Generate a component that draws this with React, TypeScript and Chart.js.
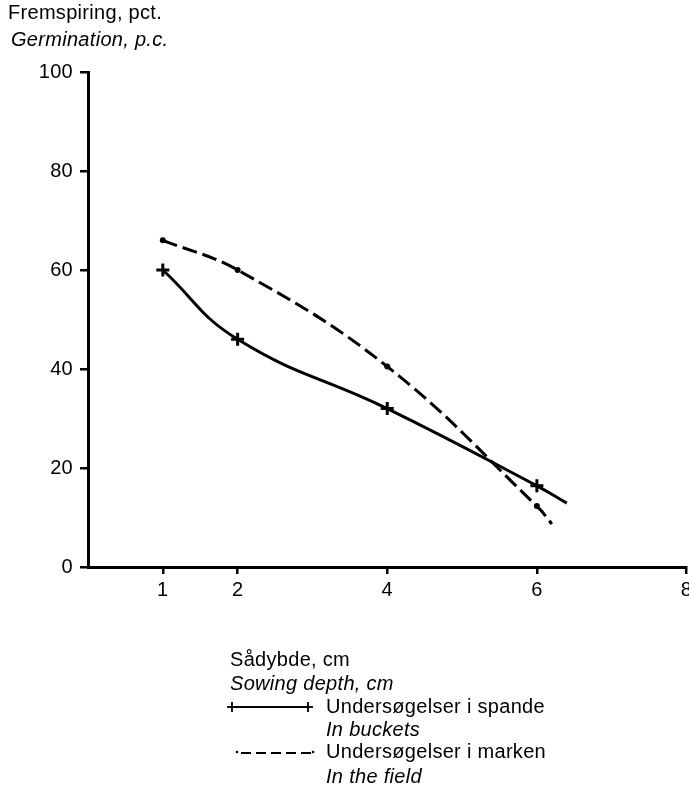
import React, { useEffect, useRef } from "react";
import { Chart, registerables } from "chart.js";

Chart.register(...registerables);

// Data
const depthBuckets = [1, 2, 4, 6, 6.4];
const germBuckets = [60, 46, 32, 16.4, 12.9];
const markerBuckets = [true, true, true, true, false];

const depthField = [1, 2, 4, 6, 6.2];
const germField = [66, 60, 40.5, 12.3, 8.7];
const markerField = [true, true, true, true, false];

const xTickValues = [1, 2, 4, 6, 8];
const yTickStep = 20;

const FONT = '"Liberation Sans", Arial, Helvetica, sans-serif';
const FONT_SIZE = 20;

const textStyle = (top: number, left: number, italic = false): React.CSSProperties => ({
  position: "absolute",
  top,
  left,
  fontFamily: FONT,
  fontSize: FONT_SIZE,
  lineHeight: "22px",
  letterSpacing: "0.3px",
  fontStyle: italic ? "italic" : "normal",
  color: "#000",
  whiteSpace: "nowrap",
});

export default function App() {
  const ref = useRef<HTMLCanvasElement | null>(null);

  useEffect(() => {
    document.body.style.margin = "0";
    const canvas = ref.current;
    if (!canvas) return;
    const spacingPlugin = {
      id: "spacing",
      beforeDraw: (chart: any) => {
        chart.ctx.letterSpacing = "0.3px";
      },
    };
    const chart = new Chart(canvas, {
      type: "line",
      data: {
        datasets: [
          {
            label: "Undersøgelser i spande",
            data: depthBuckets.map((x, i) => ({ x, y: germBuckets[i] })),
            borderColor: "#000",
            backgroundColor: "#000",
            borderWidth: 3,
            tension: 0.45,
            pointStyle: "cross",
            pointRadius: markerBuckets.map((m) => (m ? 6.5 : 0)),
            pointBorderWidth: 3,
            pointBorderColor: "#000",
            fill: false,
          },
          {
            label: "Undersøgelser i marken",
            data: depthField.map((x, i) => ({ x, y: germField[i] })),
            borderColor: "#000",
            backgroundColor: "#000",
            borderWidth: 3,
            borderDash: [15, 6],
            tension: 0.4,
            pointStyle: "circle",
            pointRadius: markerField.map((m) => (m ? 3 : 0)),
            pointBorderWidth: 0,
            pointBackgroundColor: "#000",
            fill: false,
          },
        ],
      },
      options: {
        animation: false,
        responsive: false,
        maintainAspectRatio: false,
        devicePixelRatio: 1,
        layout: { padding: { top: 72, left: 0, right: 1, bottom: 0 } },
        plugins: {
          legend: { display: false },
          tooltip: { enabled: false },
        },
        scales: {
          x: {
            type: "linear",
            min: 0,
            max: 8,
            afterBuildTicks: (scale: any) => {
              scale.ticks = xTickValues.map((v) => ({ value: v }));
            },
            afterFit: (scale: any) => {
              scale.height = 231;
              scale.paddingLeft = 0;
              scale.paddingRight = 0;
            },
            ticks: {
              color: "#000",
              font: { family: FONT, size: FONT_SIZE },
              padding: 4,
              maxRotation: 0,
              autoSkip: false,
            },
            grid: {
              drawOnChartArea: false,
              drawTicks: true,
              tickLength: 7,
              color: "#000",
              lineWidth: 2.5,
            },
            border: { display: true, color: "#000", width: 3 },
          },
          y: {
            type: "linear",
            min: 0,
            max: 100,
            afterFit: (scale: any) => {
              scale.width = 88;
              scale.paddingTop = 0;
              scale.paddingBottom = 0;
            },
            ticks: {
              stepSize: yTickStep,
              color: "#000",
              font: { family: FONT, size: FONT_SIZE },
              padding: 7,
            },
            grid: {
              drawOnChartArea: false,
              drawTicks: true,
              tickLength: 8,
              color: "#000",
              lineWidth: 2.5,
            },
            border: { display: true, color: "#000", width: 3 },
          },
        },
      },
      plugins: [spacingPlugin],
    });
    return () => chart.destroy();
  }, []);

  return (
    <div style={{ position: "relative", width: 689, height: 798, background: "#fff", overflow: "hidden" }}>
      <canvas ref={ref} width={696} height={798} style={{ position: "absolute", left: 0, top: 0 }} />
      <div style={textStyle(1, 8)}>Fremspiring, pct.</div>
      <div style={textStyle(28, 11, true)}>Germination, p.c.</div>
      <div style={textStyle(648, 230)}>Sådybde, cm</div>
      <div style={textStyle(672, 230, true)}>Sowing depth, cm</div>

      <svg style={{ position: "absolute", left: 224, top: 697, overflow: "visible" }} width={100} height={20}>
        <line x1={8} y1={10} x2={84} y2={10} stroke="#000" strokeWidth={1.8} />
        <line x1={3} y1={10} x2={13} y2={10} stroke="#000" strokeWidth={1.8} />
        <line x1={8} y1={5} x2={8} y2={15} stroke="#000" strokeWidth={1.8} />
        <line x1={79} y1={10} x2={89} y2={10} stroke="#000" strokeWidth={1.8} />
        <line x1={84} y1={5} x2={84} y2={15} stroke="#000" strokeWidth={1.8} />
      </svg>
      <div style={textStyle(695, 326)}>Undersøgelser i spande</div>
      <div style={textStyle(718, 326, true)}>In buckets</div>

      <svg style={{ position: "absolute", left: 224, top: 742, overflow: "visible" }} width={100} height={20}>
        <circle cx={13} cy={10} r={1.3} fill="#000" />
        <line x1={17} y1={11} x2={87} y2={11} stroke="#000" strokeWidth={1.8} strokeDasharray="10 5" />
        <circle cx={89} cy={10} r={1.3} fill="#000" />
      </svg>
      <div style={textStyle(740, 326)}>Undersøgelser i marken</div>
      <div style={textStyle(765, 326, true)}>In the field</div>
    </div>
  );
}
